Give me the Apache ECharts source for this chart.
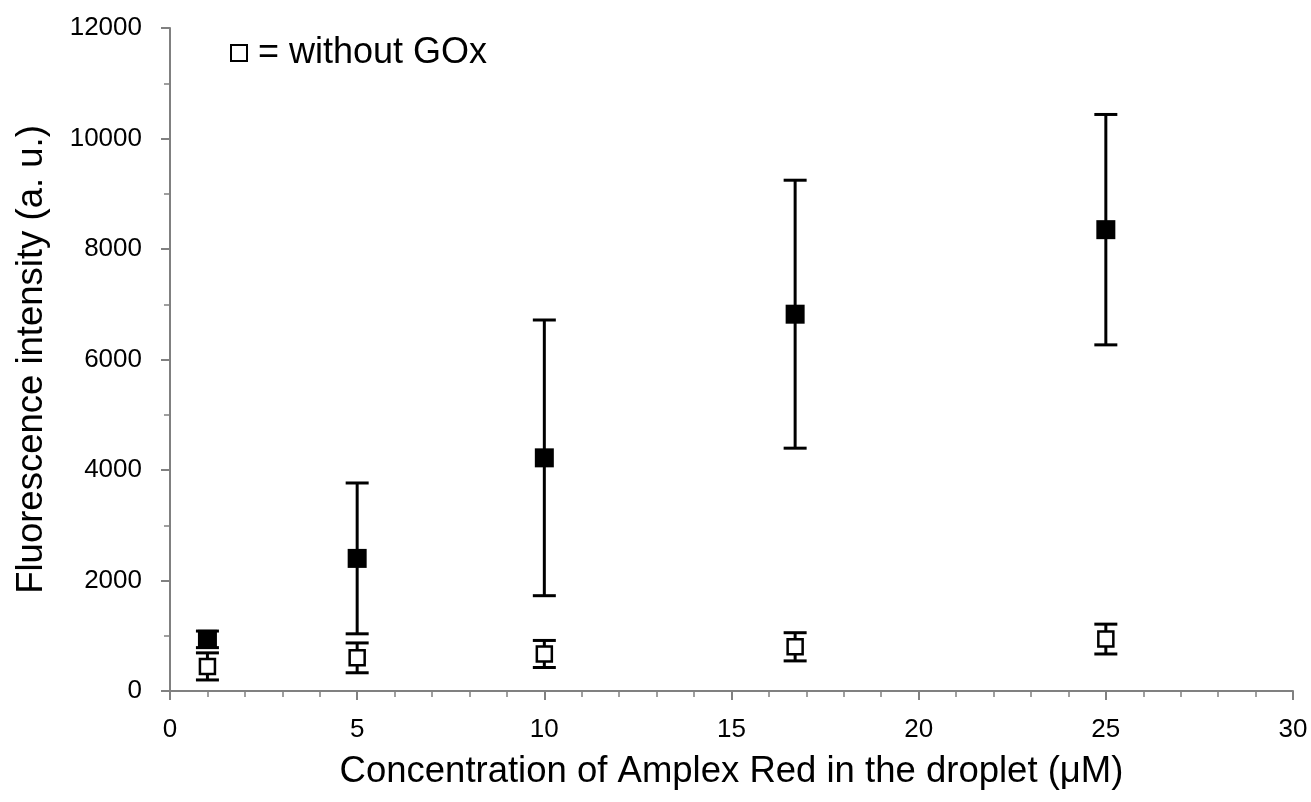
<!DOCTYPE html>
<html><head><meta charset="utf-8">
<script src="https://cdn.jsdelivr.net/npm/echarts@6/dist/echarts.min.js"></script>
<style>html,body{margin:0;padding:0;background:#fff}#c{width:1311px;height:802px}</style>
</head><body><div id="c"></div>
<script>
const concWith = [1, 5, 10, 16.7, 25];
const meanWith = [935, 2400, 4220, 6820, 8350];
const errWith = [150, 1365, 2495, 2425, 2085];
const concWithout = [1, 5, 10, 16.7, 25];
const meanWithout = [445, 600, 670, 800, 940];
const errWithout = [245, 270, 245, 255, 270];
const xTicks = [0, 5, 10, 15, 20, 25, 30];
const yTicks = [0, 2000, 4000, 6000, 8000, 10000, 12000];

const font = 'Liberation Sans, Arial, sans-serif';
function errData(xs, ms, es){ return xs.map((x,i)=>[x, ms[i]-es[i], ms[i]+es[i]]); }
function errRender(capW, lw){
  return function(params, api){
    const x = api.value(0), lo = api.value(1), hi = api.value(2);
    const pLo = api.coord([x, lo]), pHi = api.coord([x, hi]);
    const st = {stroke:'#000', lineWidth:lw};
    return {type:'group', children:[
      {type:'line', shape:{x1:pLo[0], y1:pLo[1], x2:pHi[0], y2:pHi[1]}, style:st},
      {type:'line', shape:{x1:pLo[0]-capW/2, y1:pLo[1], x2:pLo[0]+capW/2, y2:pLo[1]}, style:st},
      {type:'line', shape:{x1:pHi[0]-capW/2, y1:pHi[1], x2:pHi[0]+capW/2, y2:pHi[1]}, style:st}
    ]};
  };
}
const chart = echarts.init(document.getElementById('c'));
chart.setOption({
  animation:false,
  grid:{left:170, right:18, top:28, bottom:111},
  legend:{data:['without GOx'], left:225, top:30, itemWidth:16, itemHeight:16, itemGap:6,
    formatter:'= {name}', textStyle:{fontFamily:font, fontSize:36, color:'#000', padding:[0,0,0,6]}},
  xAxis:{type:'value', min:0, max:30, interval:5,
    name:'Concentration of Amplex Red in the droplet (μM)', nameLocation:'middle', nameGap:62,
    nameTextStyle:{fontFamily:font, fontSize:36.5, color:'#000'},
    axisLine:{lineStyle:{color:'#808080', width:2}},
    axisTick:{show:true, inside:false, length:9, lineStyle:{color:'#808080', width:2}},
    minorTick:{show:true, splitNumber:5, length:6, lineStyle:{color:'#808080', width:1.5}},
    splitLine:{show:false},
    axisLabel:{fontFamily:font, fontSize:26, color:'#000', margin:26,
      formatter:v=>xTicks.includes(v)?String(v):''}},
  yAxis:{type:'value', min:0, max:12000, interval:2000,
    name:'Fluorescence intensity (a. u.)', nameLocation:'middle', nameGap:120,
    nameTextStyle:{fontFamily:font, fontSize:36.5, color:'#000'},
    axisLine:{show:true, lineStyle:{color:'#808080', width:2}},
    axisTick:{show:true, inside:false, length:9, lineStyle:{color:'#808080', width:2}},
    minorTick:{show:true, splitNumber:2, length:6, lineStyle:{color:'#808080', width:1.5}},
    splitLine:{show:false},
    axisLabel:{fontFamily:font, fontSize:26, color:'#000', margin:28,
      formatter:v=>yTicks.includes(v)?String(v):''}},
  series:[
    {type:'custom', name:'errWith', renderItem:errRender(23,3), data:errData(concWith, meanWith, errWith), z:2},
    {type:'custom', name:'errWithout', renderItem:errRender(23,3), data:errData(concWithout, meanWithout, errWithout), z:2},
    {type:'scatter', name:'with GOx', symbol:'rect', symbolSize:19, z:5,
      itemStyle:{color:'#000', opacity:1}, data:concWith.map((x,i)=>[x, meanWith[i]])},
    {type:'scatter', name:'without GOx', symbol:'rect', symbolSize:15, z:5,
      itemStyle:{color:'#fff', borderColor:'#000', borderWidth:2.5, opacity:1}, data:concWithout.map((x,i)=>[x, meanWithout[i]])}
  ]
});
</script></body></html>
